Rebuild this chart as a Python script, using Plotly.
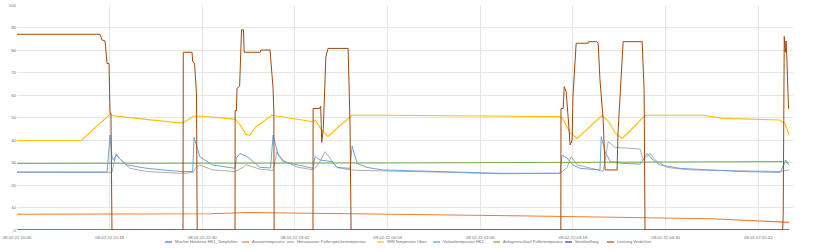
import datetime as dt
import plotly.graph_objects as go

START = dt.datetime(2022, 2, 8, 20, 6)

# tick times (minutes after start) and labels
tick_minutes = [0, 72, 144, 216, 288, 360, 432, 504, 576]
x_end_minutes = 603

# ---- series data: (minutes after start, value) ----
mischer_t = [0, 600]
mischer_v = [0, 0]

aussen_t = [0, 150, 180, 200, 260, 400, 500, 540, 600]
aussen_v = [7.0, 7.2, 7.8, 7.7, 7.2, 6.2, 5.5, 5.0, 3.4]

heiss_t = [0, 73.8, 77, 80, 87.8, 101, 126.7, 137, 138.4, 142, 152, 169.4, 175.7, 178, 181, 189,
           199, 202, 206.7, 217.6, 230, 235, 239.4, 243.3, 248.7, 258.8, 265, 323, 375, 422,
           427.5, 430.6, 435.3, 451.6, 455.5, 459.4, 464.8, 484.2, 486.6, 492, 495.9, 505.2,
           523, 593, 598.5, 600]
heiss_v = [25.6, 25.6, 34, 31.5, 27.4, 26, 25.2, 25.5, 27.4, 28.9, 26.7, 26, 27.8, 29, 28.5, 27,
           26.5, 34.8, 31, 28, 26.7, 30, 34.8, 31.9, 27.8, 26.7, 26.5, 25.8, 25, 25.2,
           27.8, 32.6, 28.9, 26.7, 26, 39.3, 36.7, 36, 31.1, 34, 31.1, 27.8,
           26.7, 26, 26.7, 26.7]

ww_t = [0, 50, 72.3, 75, 80, 128, 138.4, 169.4, 173, 178, 181, 186, 198, 230, 232, 236, 241.7,
        250, 260.4, 284.5, 414.3, 422, 424, 430, 435.3, 445, 454.7, 460, 465, 470.2, 478, 488,
        533, 548.7, 593, 597, 600]
ww_v = [39.8, 39.8, 51.5, 50.8, 50.4, 47.5, 50.8, 49.3, 47, 42.5, 42.2, 46, 51, 48.1, 48.9, 45,
        41.5, 46, 51, 51, 50.4, 50.4, 49.5, 43, 40.7, 46, 51, 48, 43, 40.7, 45, 51,
        51, 49.6, 48.9, 47, 42.2]

vorlauf_t = [0, 70, 72.3, 73.8, 75, 77, 80, 85.5, 101, 126.7, 136.5, 137.6, 142, 152, 169.4,
             170.5, 173.3, 178.8, 189, 197, 199, 203, 206.7, 217.6, 230, 231.6, 235.5, 244.8,
             248.7, 258.8, 260.4, 264.3, 272, 284.5, 323.3, 375.4, 422, 423.6, 427.5, 432,
             437.6, 453, 454, 457, 461, 471, 484.2, 489.7, 494.3, 499.8, 515.3, 562, 593, 597, 600]
vorlauf_v = [25.8, 25.8, 42.2, 32.6, 31, 33.3, 31.5, 28.9, 27.4, 26, 26, 41.2, 32.6, 28.9, 27.4,
             32, 34, 32.6, 27.8, 27.6, 42.2, 33.3, 30.4, 28.9, 27.4, 32.6, 31.1, 30.4,
             27.8, 27.4, 37.3, 29.6, 27.8, 26.7, 26, 25.2, 25.2, 33.3, 31.9, 28.9,
             27.4, 26.7, 41.5, 34.8, 30.4, 29.6, 29.3, 34, 31.1, 28.9, 27.4, 26, 25.6, 30.4, 28.9]

anlage_t = [0, 300, 596, 597, 600]
anlage_v = [29.6, 29.8, 30.4, 31.0, 29.7]

ventil_t = [0, 600]
ventil_v = [0, 0]

verd_t = [0, 64.5, 66, 68.4, 70, 71.5, 72.3, 73, 73.8,
          129, 129.2, 136, 136.5, 138, 139.5, 140,
          169.4, 169.5, 170.5, 171, 173, 174.5, 176, 176.5, 189, 189.5, 196.6, 198, 199, 199.6, 199.8,
          230, 230.1, 235, 236, 236.8, 238, 240, 241.7, 257.3, 258.8, 259.6,
          422.6, 422.7, 424.4, 425.2, 426.7, 428.3, 429.8, 431.4, 432, 434.5, 443.8, 444, 450.3,
          451.6, 453, 455.5, 457, 466.3, 467, 471, 485.8, 487.3, 488,
          595, 595.4, 596.2, 597, 597.6, 598.2, 599.5, 600]
verd_v = [87, 87, 84.5, 84, 74, 74, 52, 52, 0,
          0, 79, 79, 75, 74, 60, 0,
          0, 53, 53, 63, 64, 89, 89, 79, 79, 80, 80, 70, 63, 52, 0,
          0, 54, 54, 55, 39, 45, 77, 80.7, 80.7, 46.7, 0,
          0, 54, 54, 63.7, 61.5, 50, 37.8, 40, 59.3, 83, 83, 83.7, 83.7,
          83, 66.7, 49, 26.7, 26.7, 43, 83.7, 83.7, 62, 0,
          0, 8, 86, 79, 84, 77, 54, 54]

series_names = ["Mischer Heizkreis HK1_Tempfühler", "Aussentemperatur",
                "Heisswasser Pufferspeichertemperatur", "WW Temperatur Oben",
                "Vorlauftemperatur HK2", "Anlagenrücklauf Puffertemperatur",
                "Ventilstellung", "Leistung Verdichter"]
series_t = [mischer_t, aussen_t, heiss_t, ww_t, vorlauf_t, anlage_t, ventil_t, verd_t]
series_v = [mischer_v, aussen_v, heiss_v, ww_v, vorlauf_v, anlage_v, ventil_v, verd_v]
colors = ["#4472C4", "#ED7D31", "#A5A5A5", "#FFC000", "#5B9BD5", "#70AD47", "#264478", "#9E480E"]
widths = [1.1, 1.1, 0.9, 1.1, 0.9, 1.0, 1.0, 1.0]

# legend layout (pixel x of each entry's symbol start in the 813px picture)
legend_px = [165, 242, 287, 377, 433, 493, 565, 607]

W, H = 813, 252
ML, MR, MT, MB = 17, 20, 5, 22
PW = W - ML - MR
PH = H - MT - MB


def to_time(mins):
    return [START + dt.timedelta(minutes=m) for m in mins]


fig = go.Figure()
for name, t, v, color, w in zip(series_names, series_t, series_v, colors, widths):
    fig.add_trace(go.Scatter(x=to_time(t), y=v, mode="lines", name=name,
                             line=dict(color=color, width=w), showlegend=False))

tick_vals = to_time(tick_minutes)
tick_text = [d.strftime("%d.%m.%y %H:%M") for d in tick_vals]

FONT = "Liberation Sans"
TXT = "#6b6b6b"

# custom single-row legend
legend_y_px = 242
ly = (H - MB - legend_y_px) / PH
for name, color, px in zip(series_names, colors, legend_px):
    x0 = (px - ML) / PW
    x1 = (px + 7 - ML) / PW
    fig.add_shape(type="line", xref="paper", yref="paper", x0=x0, x1=x1, y0=ly, y1=ly,
                  line=dict(color=color, width=1.2))
    fig.add_annotation(xref="paper", yref="paper", x=(px + 8 - ML) / PW, y=ly,
                       xanchor="left", yanchor="middle", text=name, showarrow=False,
                       font=dict(family=FONT, size=4, color=TXT))

fig.update_layout(
    width=W, height=H,
    margin=dict(l=ML, r=MR, t=MT, b=MB, autoexpand=False),
    paper_bgcolor="white", plot_bgcolor="white",
    font=dict(family=FONT, size=4, color=TXT),
    showlegend=False,
)
fig.update_xaxes(
    range=[START, START + dt.timedelta(minutes=x_end_minutes)],
    tickmode="array", tickvals=tick_vals, ticktext=tick_text,
    showgrid=True, gridcolor="#E6E6E6", gridwidth=1,
    showline=False, zeroline=False, ticks="", tickfont=dict(size=4.3, color=TXT),
    ticklabelstandoff=4, automargin=False,
)
fig.update_yaxes(
    range=[0, 100], dtick=10, tick0=0,
    showgrid=True, gridcolor="#E6E6E6", gridwidth=1,
    showline=False, zeroline=False, ticks="", tickfont=dict(size=4.3, color=TXT),
    automargin=False,
)

fig.write_html("out.html")
